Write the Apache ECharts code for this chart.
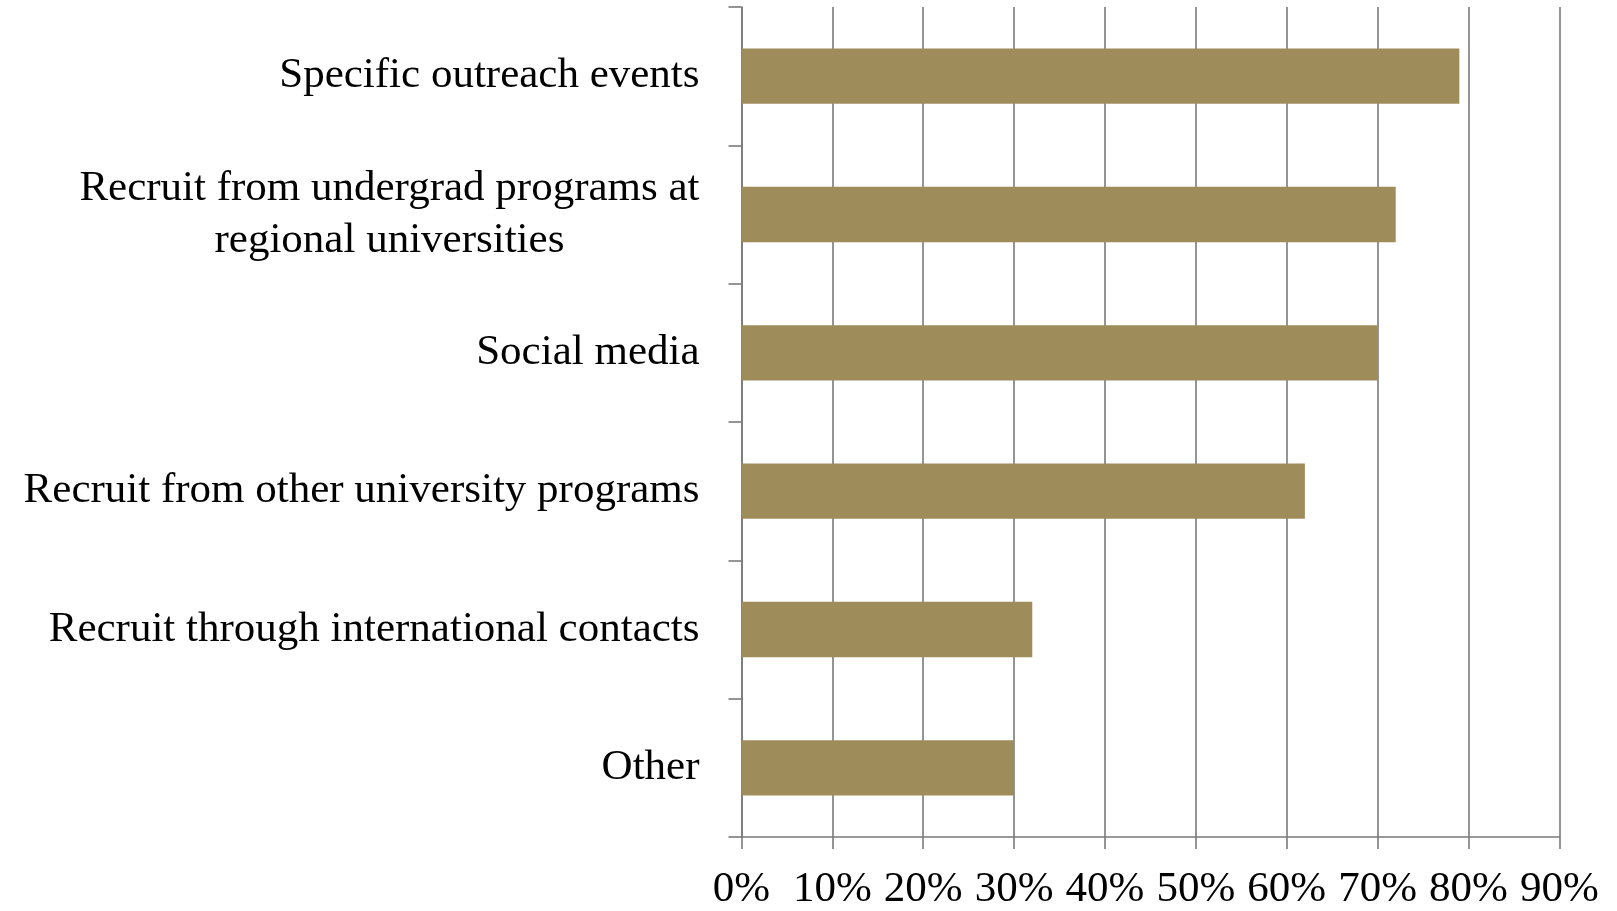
<!DOCTYPE html>
<html>
<head>
<meta charset="utf-8">
<script src="https://cdn.jsdelivr.net/npm/echarts@6/dist/echarts.min.js"></script>
<style>html,body{margin:0;padding:0;background:#fff}#c{width:1617px;height:911px}</style>
</head>
<body>
<div id="c"></div>
<script>
const categories = [
  'Specific outreach events',
  'Recruit from undergrad programs at\nregional universities',
  'Social media',
  'Recruit from other university programs',
  'Recruit through international contacts',
  'Other'
];
const values = [79, 72, 70, 62, 32, 30];
const tickMax = 90;
const tickStep = 10;

const FONT = '"Liberation Serif", "Times New Roman", serif';
const FS = 43;

function textWidth(s) {
  const cv = document.createElement('canvas').getContext('2d');
  cv.font = FS + 'px ' + FONT;
  return cv.measureText(s).width;
}

const yData = categories.map(c => {
  if (c.indexOf('\n') < 0) return c;
  const lines = c.split('\n');
  const w = Math.max.apply(null, lines.map(textWidth));
  return { value: c, textStyle: { align: 'center', padding: [0, w, 0, 0] } };
});

const chart = echarts.init(document.getElementById('c'), null, { renderer: 'canvas' });
chart.setOption({
  animation: false,
  grid: { left: 741.5, right: 57.7, top: 7, bottom: 72, containLabel: false },
  xAxis: {
    type: 'value', min: 0, max: tickMax, interval: tickStep,
    axisLine: { show: true, lineStyle: { color: '#7a7a7a', width: 1.6 } },
    axisTick: { show: true, length: 12, lineStyle: { color: '#7a7a7a', width: 1.6 } },
    splitLine: { show: true, lineStyle: { color: '#7a7a7a', width: 1.6 } },
    axisLabel: { formatter: v => v + '%', color: '#000', fontFamily: FONT, fontSize: FS, margin: 31 }
  },
  yAxis: {
    type: 'category', inverse: true, data: yData,
    axisLine: { show: true, lineStyle: { color: '#7a7a7a', width: 1.6 } },
    axisTick: { show: true, length: 13, lineStyle: { color: '#7a7a7a', width: 1.6 } },
    axisLabel: { color: '#000', fontFamily: FONT, fontSize: FS, lineHeight: 52, margin: 42 }
  },
  series: [{
    type: 'bar', data: values, barCategoryGap: '60%',
    itemStyle: { color: '#9E8C5A' }
  }]
});
</script>
</body>
</html>
